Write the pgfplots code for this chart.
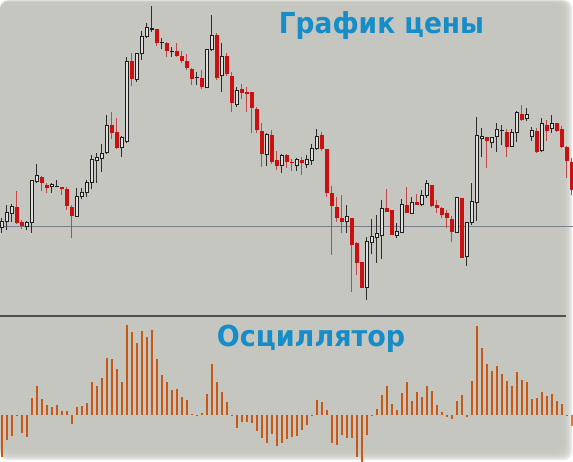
\documentclass[border=0pt]{standalone}
\usepackage{fontspec}
\usepackage{pgfplots}
\pgfplotsset{compat=1.18}
\usepackage{pgfplotstable}
\newfontfamily\titlefont{DejaVu Sans}
\definecolor{bg}{RGB}{197,198,191}
\definecolor{titleblue}{RGB}{22,140,200}
\definecolor{bearred}{RGB}{204,16,16}
\definecolor{bearwick}{RGB}{196,70,70}
\definecolor{bulledge}{RGB}{30,30,30}
\definecolor{bullwick}{RGB}{45,45,45}
\definecolor{bullfill}{RGB}{222,222,222}
\definecolor{osc}{RGB}{200,88,20}
\definecolor{oscbright}{RGB}{255,110,20}
\definecolor{levelline}{RGB}{120,128,145}
\definecolor{sepline}{RGB}{80,80,80}

% bullish candles: index open high low close
\pgfplotstableread{
i o h l c
1 92 102 87 98
2 98 115 90 107
3 106 116 98 113
6 93 99 90 97
7 97 140 87 139
8 138 156 137 144
11 133 137 127 135
12 133 140 133 133
16 103 132 103 123
17 123 132 121 127
18 127 140 123 137
19 137 165 131 160
20 159 167 137 162
21 161 176 148 166
22 167 205 166 194
25 172 184 163 182
26 178 263 177 258
28 240 266 238 266
29 266 289 260 283
30 283 297 282 292
31 290 314 288 291
33 277 282 271 277
35 268 273 263 268
40 242 248 235 242
42 232 271 232 270
43 270 305 269 284
45 244 277 228 263
48 215 233 213 229
54 165 187 154 185
57 154 166 147 164
60 154 162 149 160
62 155 165 152 160
63 159 176 155 171
64 171 191 170 183
70 98 115 87 103
74 32 83 20 78
75 77 101 66 83
76 82 105 57 86
77 84 120 61 111
80 84 97 82 88
81 87 121 87 115
83 106 123 106 117
85 115 130 114 124
86 124 140 122 136
92 87 123 87 122
94 63 97 54 97
95 97 137 95 118
96 117 203 99 184
97 181 192 163 183
99 177 183 172 182
100 183 197 168 190
101 189 195 175 189
103 173 191 173 187
104 187 209 178 207
106 201 212 199 205
107 183 193 179 189
109 169 202 168 196
111 191 205 187 196
}\bull

% bearish candles: index open high low close
\pgfplotstableread{
i o h l c
4 113 129 96 97
5 98 100 91 94
9 143 144 129 137
10 135 137 127 132
13 133 133 125 131
14 131 133 110 114
15 113 115 82 104
23 195 208 181 187
24 188 202 171 172
27 259 267 234 241
32 291 291 274 277
34 277 278 263 269
36 269 277 263 264
37 264 269 257 259
38 259 266 250 252
39 251 252 235 241
41 242 250 231 233
44 285 287 240 242
46 264 267 244 246
47 244 248 208 217
49 231 236 221 227
50 228 233 208 226
51 228 228 187 212
52 211 213 187 190
53 189 197 153 166
55 185 190 156 158
56 160 169 150 154
58 165 166 152 158
59 158 161 149 157
61 160 163 145 157
65 185 188 169 171
66 171 171 123 127
67 127 134 65 114
68 113 123 98 102
69 102 125 87 98
71 102 102 28 75
72 77 78 45 57
73 58 58 32 32
78 112 131 108 108
79 110 110 85 85
82 115 133 107 107
84 118 126 115 115
87 135 135 113 114
88 115 120 107 112
89 112 113 102 105
90 107 110 92 102
91 101 104 78 88
93 122 122 62 62
98 183 183 152 179
102 188 191 163 173
105 206 215 199 200
108 189 192 167 168
110 195 200 179 189
112 197 197 188 189
113 191 194 172 173
114 173 174 142 159
115 158 162 125 130
}\bear

% oscillator values
\pgfplotstableread{
i v
1 -42
2 -25
3 -21
4 -0.6
5 -18
6 -22
7 17
8 29
9 16
10 10
11 8
12 10
13 4
14 4
15 -9
16 8
17 9
18 12
19 33
20 29
21 37
22 57
23 56
24 46
25 33
26 90
27 83
28 72
29 84
30 78
31 85
32 56
33 40
34 33
35 25
36 26
37 18
38 15
39 0.6
40 -1
41 2
42 21
43 51
44 33
45 23
46 13
47 -0.6
48 -13
49 -7
50 -7
51 -8
52 -16
53 -23
54 -28
55 -19
56 -31
57 -28
58 -24
59 -22
60 -21
61 -15
62 -10
63 -0.6
64 15
65 13
66 5
67 -28
68 -30
69 -20
70 -23
71 -23
72 -42
73 -47
74 -20
75 -1
76 6
77 20
78 29
79 11
80 5
81 22
82 33
83 14
84 23
85 18
86 29
87 24
88 10
89 3
90 -2
91 -4
92 14
93 20
94 -2
95 34
96 89
97 67
98 51
99 44
100 49
101 41
102 34
103 29
104 43
105 35
106 33
107 16
108 17
109 23
110 19
111 21
112 14
113 11
114 -1
}\osctab

\pgfplotsset{
  candle/.style={draw=none, fill=none, mark=none, forget plot,
    error bars/y dir=plus, error bars/y explicit, error bars/error mark=none,
    error bars/error bar style={#1}},
}

\begin{document}
\begin{tikzpicture}
% page and panel
\fill[white] (0bp,0bp) rectangle (573bp,462bp);
\foreach \k in {0,...,9} {
  \fill[bg, opacity=0.35, rounded corners=8bp]
    (0bp,{(2+1.5*\k)*1bp}) rectangle ({(572-1.5*\k)*1bp},{(462-0.5*\k)*1bp});
}
\draw[sepline, line width=1.4bp] (0bp,146bp) -- (566bp,146bp);

% price panel
\begin{axis}[at={(0bp,142bp)}, anchor=south west, x=5bp, y=1bp,
  xmin=0.66, xmax=115.26, ymin=0, ymax=320, hide axis]
\addplot[levelline, line width=0.9bp, mark=none, forget plot] coordinates {(0.66,94) (115.26,94)};
% wicks
\addplot[candle={line width=1bp, draw=bullwick}]
  table[x=i, y=l, y error expr={\thisrow{h}-\thisrow{l}}] {\bull};
\addplot[candle={line width=1bp, draw=bearwick}]
  table[x=i, y=l, y error expr={\thisrow{h}-\thisrow{l}}] {\bear};
% bodies
\addplot[candle={line width=4bp, draw=bulledge}]
  table[x=i, y expr={\thisrow{o}-0.5}, y error expr={\thisrow{c}-\thisrow{o}+1}] {\bull};
\addplot[candle={line width=2bp, draw=bullfill}]
  table[x=i, y expr={\thisrow{o}+0.5}, y error expr={max(\thisrow{c}-\thisrow{o}-1,0)}] {\bull};
\addplot[candle={line width=4bp, draw=bearred}]
  table[x=i, y=c, y error expr={max(\thisrow{o}-\thisrow{c},1)}] {\bear};
\end{axis}

% oscillator panel
\begin{axis}[at={(0bp,-1bp)}, anchor=south west, x=5bp, y=1bp,
  xmin=0.66, xmax=115.26, ymin=-48, ymax=100, hide axis]
\addplot[ycomb, osc, line width=2bp, mark=none] table[x=i, y=v] {\osctab};
\addplot[ycomb, oscbright, line width=2bp, mark=none] coordinates {(115,-11)};
\end{axis}

\node[anchor=base, text=titleblue, font=\titlefont\bfseries\fontsize{29}{29}\selectfont]
  at (381.5bp,428bp) {\scalebox{0.915}[1]{График цены}};
\node[anchor=base, text=titleblue, font=\titlefont\bfseries\fontsize{29}{29}\selectfont]
  at (311bp,115bp) {\scalebox{0.935}[1]{Осциллятор}};

\pgfresetboundingbox
\path (0bp,0bp) rectangle (573bp,462bp);
\end{tikzpicture}
\end{document}
